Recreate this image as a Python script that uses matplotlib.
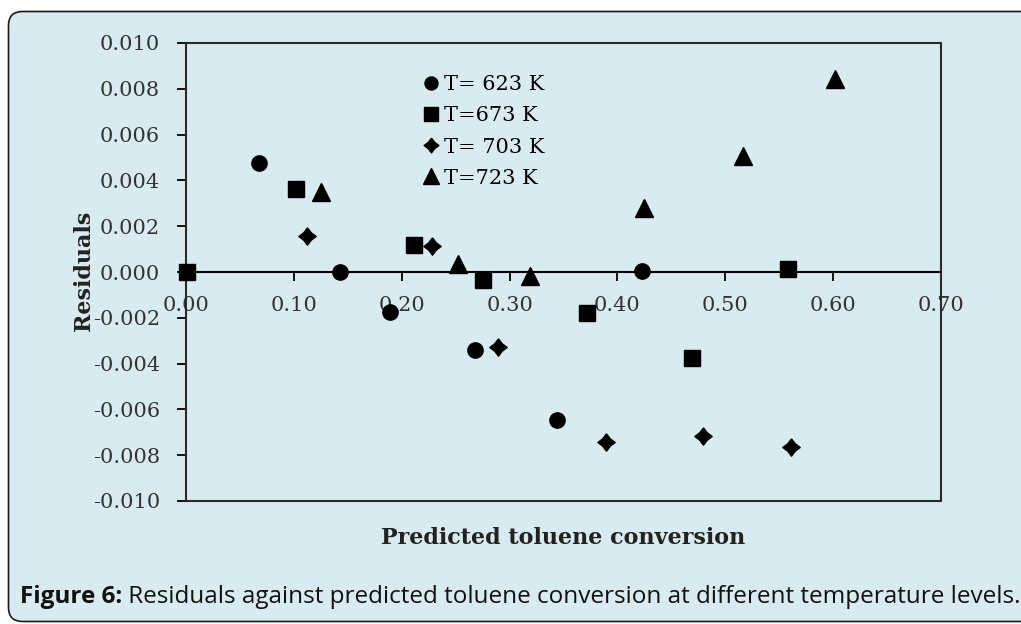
import matplotlib
matplotlib.use("Agg")
import matplotlib.pyplot as plt
from matplotlib.patches import FancyBboxPatch
from matplotlib.transforms import IdentityTransform

# ---- data ----
x_623 = [0.068, 0.143, 0.189, 0.268, 0.344, 0.423]
y_623 = [0.00477, 0.0, -0.00173, -0.0034, -0.00646, 0.00004]
x_673 = [0.001, 0.102, 0.211, 0.275, 0.372, 0.469, 0.558]
y_673 = [0.0, 0.00362, 0.00118, -0.00035, -0.0018, -0.00374, 0.00013]
x_703 = [0.112, 0.228, 0.289, 0.389, 0.479, 0.561]
y_703 = [0.00157, 0.00114, -0.00326, -0.00741, -0.00715, -0.00766]
x_723 = [0.125, 0.2525, 0.319, 0.425, 0.516, 0.602]
y_723 = [0.00349, 0.00034, -0.00017, 0.00278, 0.00508, 0.00842]
series_labels = ["T= 623 K", "T=673 K", "T= 703 K", "T=723 K"]
x_ticks = [0.0, 0.1, 0.2, 0.3, 0.4, 0.5, 0.6, 0.7]
y_ticks = [-0.010, -0.008, -0.006, -0.004, -0.002, 0.000, 0.002, 0.004, 0.006, 0.008, 0.010]
x_label = "Predicted toluene conversion"
y_label = "Residuals"
caption_bold = "Figure 6:"
caption_text = " Residuals against predicted toluene conversion at different temperature levels."

W, H = 1021, 624
bg = "#d8ebf1"
serif = ["DejaVu Serif"]

# slightly pinched diamond marker
k = 0.43
diamond = [(0, 1), (k, k), (1, 0), (k, -k), (0, -1), (-k, -k), (-1, 0), (-k, k), (0, 1)]

fig = plt.figure(figsize=(W / 100, H / 100), dpi=100)
fig.patch.set_facecolor("white")

panel = FancyBboxPatch((8.5, 2.5), 1060, 610, boxstyle="round,pad=0,rounding_size=14",
                       transform=IdentityTransform(), facecolor=bg, edgecolor="#1a1a1a",
                       linewidth=1.2, zorder=-10)
fig.add_artist(panel)

ax = fig.add_axes([186 / W, 1 - 501 / H, 755 / W, 458 / H])
ax.set_facecolor("none")

ax.plot(x_623, y_623, "o", color="black", ms=11, label=series_labels[0], clip_on=False, zorder=5)
ax.plot(x_673, y_673, "s", color="black", ms=11.3, label=series_labels[1], clip_on=False, zorder=5)
ax.plot(x_703, y_703, marker=diamond, ls="none", color="black", ms=12.5, label=series_labels[2],
        clip_on=False, zorder=5)
ax.plot(x_723, y_723, "^", color="black", ms=13, label=series_labels[3], clip_on=False, zorder=5)

ax.set_xlim(0, 0.7)
ax.set_ylim(-0.010, 0.010)
ax.set_xticks(x_ticks)
ax.set_yticks(y_ticks)
ax.set_xticklabels([f"{v:.2f}" for v in x_ticks])
ax.set_yticklabels([f"{v:.3f}" for v in y_ticks])

frame_c = "#2a2a2a"
for s in ["top", "right", "left"]:
    ax.spines[s].set_color(frame_c)
    ax.spines[s].set_linewidth(1.5)
ax.spines["bottom"].set_position(("data", 0))
ax.spines["bottom"].set_color("black")
ax.spines["bottom"].set_linewidth(1.5)
ax.plot([0, 1], [0, 0], transform=ax.transAxes, color=frame_c, lw=1.5, clip_on=False, zorder=4)

ax.tick_params(axis="both", direction="out", length=6.3, width=1.3, color="black",
               labelsize=15, labelcolor="#333333")
ax.tick_params(axis="x", pad=11)
ax.tick_params(axis="y", pad=12.5)
for lab in ax.get_xticklabels() + ax.get_yticklabels():
    lab.set_family(serif)

ax.set_xlabel(x_label, family=serif, fontweight="bold", fontsize=16, color="#222222")
ax.xaxis.set_label_coords(0.5, -0.081)
ax.xaxis.label.set_va("center")
ax.set_ylabel(y_label, family=serif, fontweight="bold", fontsize=16, color="#222222")
ax.yaxis.set_label_coords(-0.135, 0.503)
ax.yaxis.label.set_va("center")

leg = ax.legend(loc="upper left", bbox_to_anchor=((414 - 186) / 755, (501 - 65) / 458),
                frameon=False, prop={"family": serif, "size": 15}, handlelength=0.6,
                handletextpad=0.35, labelspacing=0.58, borderpad=0, markerscale=0.85)

t1 = fig.text(20 / W, 1 - 597 / H, caption_bold, fontsize=17.45, fontweight="bold",
              family=["Open Sans", "DejaVu Sans"], va="center", ha="left", color="#111111")
fig.canvas.draw()
bb = t1.get_window_extent()
fig.text(bb.x1 / W, 1 - 597 / H, caption_text, fontsize=17.45,
         family=["Open Sans", "DejaVu Sans"], va="center", ha="left", color="#111111")

fig.savefig("out.png", dpi=100, facecolor=fig.get_facecolor())
